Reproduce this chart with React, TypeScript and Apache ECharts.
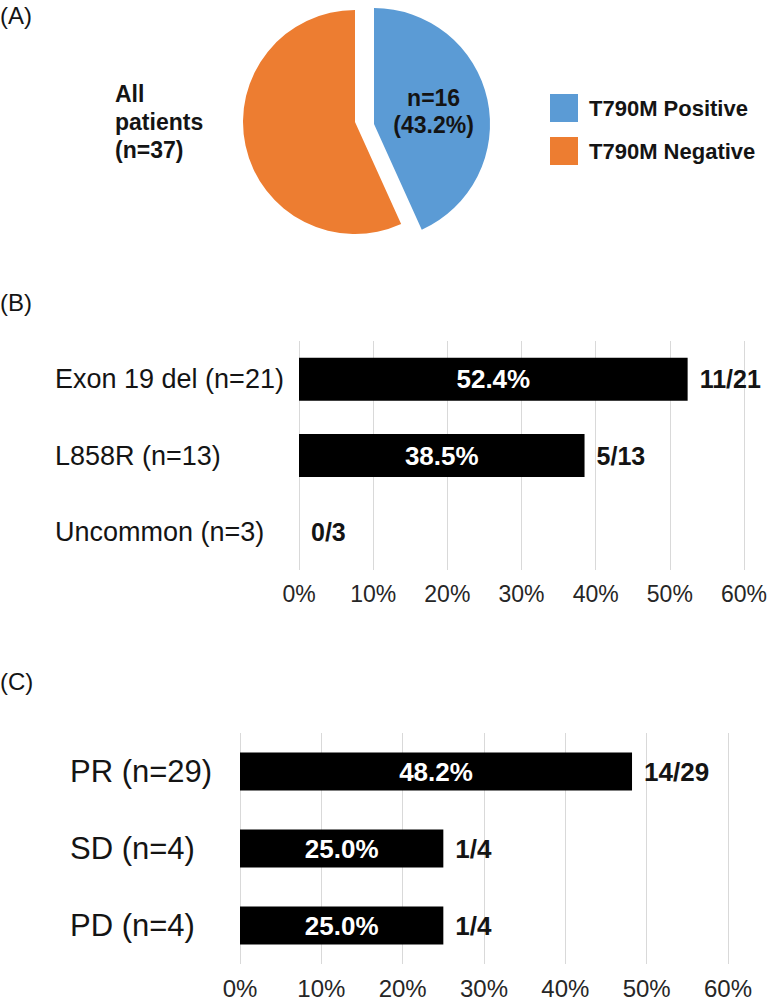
import React, { useEffect, useRef } from 'react';
import * as echarts from 'echarts';

const pieNames = ['T790M Positive', 'T790M Negative'];
const pieCounts = [16, 21];
const pieColors = ['#5B9BD5', '#ED7D31'];

const mutationCats = ['Exon 19 del (n=21)', 'L858R (n=13)', 'Uncommon (n=3)'];
const mutationPct = [52.4, 38.5, 0];
const mutationFrac = ['11/21', '5/13', '0/3'];

const responseCats = ['PR (n=29)', 'SD (n=4)', 'PD (n=4)'];
const responsePct = [48.2, 25.0, 25.0];
const responseFrac = ['14/29', '1/4', '1/4'];

const axisMax = 60;
const axisInterval = 10;

const FONT = '"Liberation Sans", Arial, sans-serif';
const TXT = '#141414';

export default function App() {
  const ref = useRef<HTMLDivElement>(null);
  useEffect(() => {
    document.body.style.margin = '0';
    if (!ref.current) return;
    const chart = echarts.init(ref.current, undefined, { renderer: 'svg' });
    const total = pieCounts.reduce((a, b) => a + b, 0);

    const makeBars = (
      gridIndex: number,
      pct: number[],
      frac: string[],
      barWidth: number,
      inFont: number,
      outFont: number
    ) => [
      {
        type: 'bar',
        xAxisIndex: gridIndex,
        yAxisIndex: gridIndex,
        data: pct,
        barWidth,
        itemStyle: { color: '#000000' },
        label: {
          show: true,
          position: 'inside',
          color: '#ffffff',
          fontFamily: FONT,
          fontWeight: 'bold',
          fontSize: inFont,
          formatter: (p: any) => (p.value > 0 ? `${Number(p.value).toFixed(1)}%` : ''),
        },
      },
      {
        type: 'bar',
        xAxisIndex: gridIndex,
        yAxisIndex: gridIndex,
        data: pct,
        barWidth,
        barGap: '-100%',
        itemStyle: { color: 'transparent' },
        label: {
          show: true,
          position: 'right',
          distance: 12,
          color: TXT,
          fontFamily: FONT,
          fontWeight: 'bold',
          fontSize: outFont,
          formatter: (p: any) => frac[p.dataIndex],
        },
      },
    ];

    const xAxisCfg = (gridIndex: number, fontSize: number) => ({
      type: 'value',
      gridIndex,
      min: 0,
      max: axisMax,
      interval: axisInterval,
      axisLine: { show: false },
      axisTick: { show: false },
      splitLine: { show: true, lineStyle: { color: '#d9d9d9', width: 1 } },
      axisLabel: {
        formatter: '{value}%',
        fontFamily: FONT,
        fontSize,
        color: '#262626',
        margin: 12,
      },
    });

    const yAxisCfg = (gridIndex: number, data: string[], fontSize: number, margin: number) => ({
      type: 'category',
      gridIndex,
      data,
      inverse: true,
      axisLine: { show: false },
      axisTick: { show: false },
      axisLabel: {
        align: 'left',
        margin,
        fontFamily: FONT,
        fontSize,
        color: TXT,
      },
    });

    const pct0 = ((pieCounts[0] / total) * 100).toFixed(1);

    const pieBase = {
      type: 'pie',
      startAngle: 90,
      clockwise: true,
      silent: true,
      labelLine: { show: false },
      emphasis: { scale: false },
    };

    chart.setOption({
      animation: false,
      textStyle: { fontFamily: FONT },
      legend: {
        data: pieNames.map((name, i) => ({ name, itemStyle: { color: pieColors[i] } })),
        orient: 'vertical',
        left: 545,
        top: 89,
        itemWidth: 28,
        itemHeight: 28,
        itemGap: 15,
        icon: 'rect',
        selectedMode: false,
        textStyle: {
          fontFamily: FONT,
          fontWeight: 'bold',
          fontSize: 22,
          color: TXT,
          padding: [0, 0, 0, 6],
        },
      },
      grid: [
        { left: 299, right: 36, top: 341, height: 229 },
        { left: 240, right: 52, top: 733, height: 231 },
      ],
      xAxis: [xAxisCfg(0, 23), xAxisCfg(1, 24)],
      yAxis: [
        yAxisCfg(0, mutationCats, 27, 244),
        yAxisCfg(1, responseCats, 31, 170),
      ],
      graphic: [
        { type: 'text', left: 0, top: 3, style: { text: '(A)', fontFamily: FONT, fontSize: 24, fill: TXT } },
        { type: 'text', left: 0, top: 290, style: { text: '(B)', fontFamily: FONT, fontSize: 24, fill: TXT } },
        { type: 'text', left: 0, top: 669, style: { text: '(C)', fontFamily: FONT, fontSize: 24, fill: TXT } },
        {
          type: 'text',
          left: 115,
          top: 80,
          style: {
            text: `All\npatients\n(n=${total})`,
            fontFamily: FONT,
            fontWeight: 'bold',
            fontSize: 23,
            lineHeight: 28,
            fill: TXT,
          },
        },
      ],
      series: [
        {
          ...pieBase,
          name: 'negative',
          center: [355, 122],
          radius: 112,
          label: { show: false },
          data: pieNames.map((name, i) => ({
            name,
            value: pieCounts[i],
            itemStyle: { color: i === 1 ? pieColors[i] : 'transparent' },
          })),
        },
        {
          ...pieBase,
          name: 'positive',
          center: [374, 124],
          radius: 116,
          label: { show: false },
          data: pieNames.map((name, i) => ({
            name,
            value: pieCounts[i],
            itemStyle: { color: i === 0 ? pieColors[i] : 'transparent' },
            label:
              i === 0
                ? {
                    show: true,
                    position: 'inside',
                    formatter: `n=${pieCounts[i]}\n(${pct0}%)`,
                    fontFamily: FONT,
                    fontWeight: 'bold',
                    fontSize: 23,
                    lineHeight: 27,
                    color: TXT,
                    padding: [0, 0, 18, 0],
                  }
                : { show: false },
          })),
        },
        ...makeBars(0, mutationPct, mutationFrac, 43, 26, 25),
        ...makeBars(1, responsePct, responseFrac, 38, 26, 26),
      ],
    });
    return () => chart.dispose();
  }, []);
  return <div ref={ref} style={{ width: 780, height: 1006 }} />;
}
